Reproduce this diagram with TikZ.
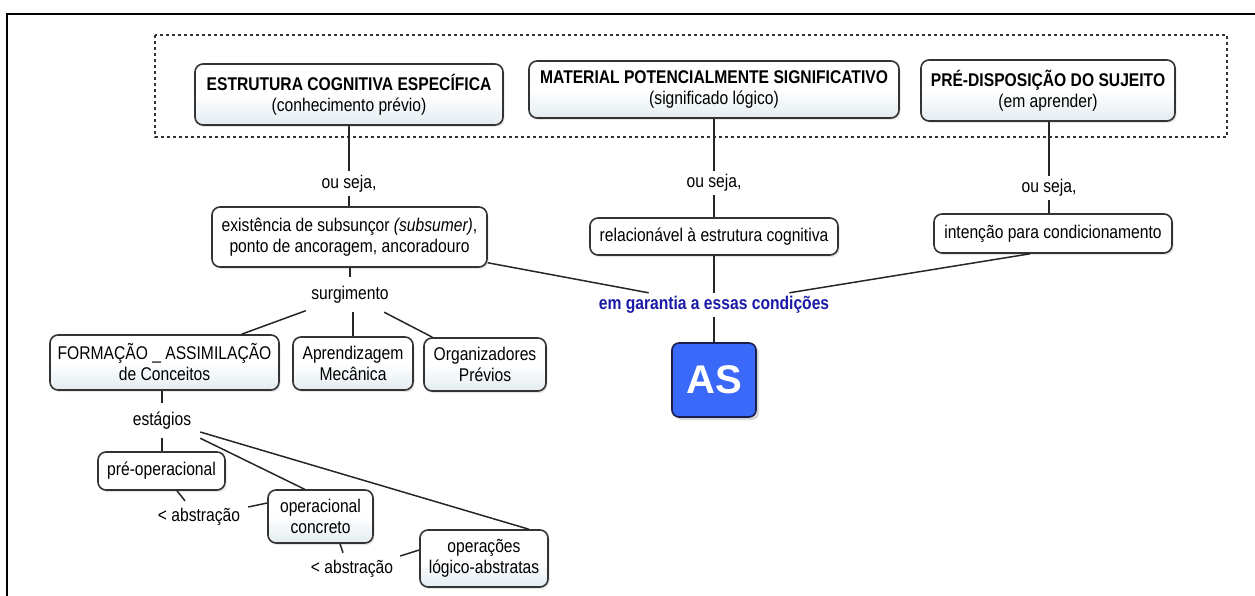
\documentclass[tikz,border=0pt]{standalone}
\usepackage{fontspec}
\setmainfont[FakeStretch=0.85]{Liberation Sans}
\newfontfamily\asfont{Liberation Sans}
\usetikzlibrary{shadows,calc}
\definecolor{boxline}{HTML}{333333}
\definecolor{boxlow}{HTML}{E3ECF1}
\definecolor{garblue}{HTML}{1A1AA6}
\definecolor{asblue}{HTML}{3A68F8}
\definecolor{asline}{HTML}{1B1F4A}
\newcommand\fs{\fontsize{18.4}{21}\selectfont}
\begin{document}
\begin{tikzpicture}[x=1pt,y=-1pt,
  cbox/.style={draw=boxline, line width=1.6pt, rounded corners=8pt, align=center,
    inner sep=0pt, font=\fs, fill=white,
    drop shadow={shadow xshift=1.5pt, shadow yshift=-2pt, fill=black!20}},
  gbox/.style={cbox, top color=white, bottom color=boxlow, middle color=white},
  lbl/.style={font=\fs, inner sep=0pt, minimum height=24pt, align=center},
  conn/.style={draw=black!85, line width=1.5pt}]
\useasboundingbox (0,0) rectangle (1255,596);
% outer frame
\draw[line width=2pt, black] (7,596) -- (7,14) -- (1255,14);
% dotted group
\draw[boxline, line width=1.5pt, dash pattern=on 3pt off 3pt] (155,35) rectangle (1227,137);
% top concepts
\node[gbox, minimum width=308pt, minimum height=61pt] (b1) at (349,94.5)
  {\textbf{ESTRUTURA COGNITIVA ESPECÍFICA}\\(conhecimento prévio)};
\node[gbox, minimum width=370pt, minimum height=57pt] (b2) at (714,89.5)
  {\textbf{MATERIAL POTENCIALMENTE SIGNIFICATIVO}\\(significado lógico)};
\node[gbox, minimum width=254pt, minimum height=61pt] (b3) at (1048,90.5)
  {\textbf{PRÉ-DISPOSIÇÃO DO SUJEITO}\\(em aprender)};
% ou seja labels
\node[lbl] (ou1) at (349,183.5) {ou seja,};
\node[lbl] (ou2) at (714,183) {ou seja,};
\node[lbl] (ou3) at (1049,188) {ou seja,};
% second row
\node[cbox, minimum width=275pt, minimum height=60pt] (exist) at (349.5,237)
  {existência de subsunçor \textit{(subsumer)},\\ponto de ancoragem, ancoradouro};
\node[cbox, minimum width=248pt, minimum height=37pt] (rel) at (714,236.5)
  {relacionável à estrutura cognitiva};
\node[cbox, minimum width=238pt, minimum height=39pt] (int) at (1053,233.5)
  {intenção para condicionamento};
% garantia + AS
\node[lbl, font=\fs\bfseries, text=garblue] (gar) at (714,305) {em garantia a essas condições};
\node[draw=asline, line width=1.6pt, rounded corners=7pt, fill=asblue,
  minimum width=84pt, minimum height=74pt, inner sep=0pt,
  drop shadow={shadow xshift=3pt, shadow yshift=-3pt, fill=black!30},
  text=white, font=\asfont\fontsize{40}{40}\selectfont\bfseries] (as) at (714,380) {AS};
% surgimento branch
\node[lbl, minimum width=88pt, minimum height=35pt] (surg) at (350,294.5) {surgimento};
\node[gbox, minimum width=229pt, minimum height=55pt] (form) at (164.5,362.5)
  {FORMAÇÃO \_ ASSIMILAÇÃO\\de Conceitos};
\node[gbox, minimum width=120pt, minimum height=53pt] (aprend) at (353,363.5)
  {Aprendizagem\\Mecânica};
\node[gbox, minimum width=122pt, minimum height=53pt] (org) at (485,364.5)
  {Organizadores\\Prévios};
% estágios branch
\node[lbl, minimum width=76pt, minimum height=35pt] (est) at (162,420.5) {estágios};
\node[cbox, minimum width=127pt, minimum height=38pt] (pre) at (161.5,471) {pré-operacional};
\node[gbox, minimum width=105pt, minimum height=53pt] (opc) at (320.5,516.5)
  {operacional\\concreto};
\node[gbox, minimum width=128pt, minimum height=57pt] (oper) at (484,558.5)
  {operações\\lógico-abstratas};
\node[lbl, minimum width=98pt, minimum height=32pt] (abs1) at (199,517) {< abstração};
\node[lbl, minimum width=96pt, minimum height=32pt] (abs2) at (352,569) {< abstração};
% connectors
\draw[conn] (b1) -- (ou1);
\draw[conn] (ou1) -- (ou1 |- exist.north);
\draw[conn] (b2) -- (ou2);
\draw[conn] (ou2) -- (rel);
\draw[conn] (b3.south -| ou3) -- (ou3);
\draw[conn] (ou3) -- (ou3 |- int.north);
\draw[conn] (exist) -- (gar);
\draw[conn] (rel) -- (gar);
\draw[conn] ([xshift=-23pt]int.south) -- (gar);
\draw[conn] (gar) -- (as);
\draw[conn] (exist.south -| surg) -- (surg);
\draw[conn] (surg) -- (form);
\draw[conn] (aprend.north |- surg.south) -- (aprend.north);
\draw[conn] (surg) -- (org);
\draw[conn] (form.south -| est) -- (est);
\draw[conn] (est) -- (est |- pre.north);
\draw[conn] (est.south east) -- ([xshift=-16pt]opc.north);
\draw[conn] ([yshift=-11.5pt]est.east) -- ([xshift=-20pt]oper.north east);
\draw[conn] ([xshift=15.5pt]pre.south) -- ([xshift=-14pt]abs1.north);
\draw[conn] ([yshift=10pt]abs1.east) -- ([yshift=13.5pt]opc.west);
\draw[conn] ([xshift=19.5pt]opc.south) -- ([xshift=-9pt]abs2.north);
\draw[conn] ([yshift=13pt]abs2.east) -- ([yshift=8.5pt]oper.west);
\end{tikzpicture}
\end{document}
